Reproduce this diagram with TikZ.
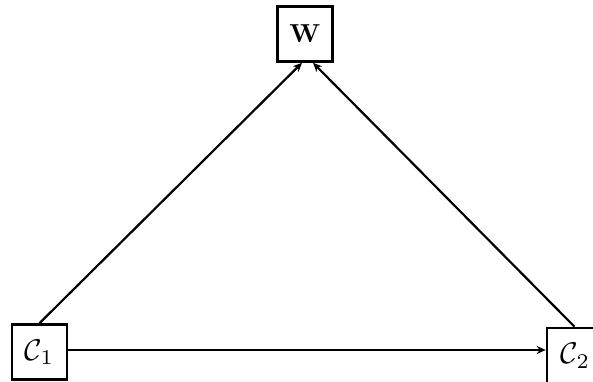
\documentclass[tikz,border=0pt]{standalone}
\usepackage{graphicx}
\usetikzlibrary{arrows.meta}
\newcommand{\wtxt}[1]{\scalebox{2.6}{#1}}
\newcommand{\ctxt}[1]{\scalebox{3.0}{#1}}
\begin{document}
\begin{tikzpicture}[x=1pt,y=-1pt,
  boxnode/.style={draw,line width=2.6pt,minimum width=55pt,minimum height=55pt,inner sep=0pt},
  conn/.style={line width=2.2pt,-{Stealth[length=9pt,width=8pt]}}]
\useasboundingbox (0,0) rectangle (593,381);
\clip (0,0) rectangle (593,381);
\node[boxnode] (W) at (305,34) {\wtxt{$\mathbf{W}$}};
\node[boxnode] (C1) at (39.5,352) {\ctxt{$\mathcal{C}_1$}};
\node[boxnode] (C2) at (574.5,355.5) {\hspace*{2pt}\ctxt{$\mathcal{C}_2$}};
\draw[conn] (C1.north) -- ([xshift=-3pt]W.south);
\draw[conn] (C2.north) -- ([xshift=8pt]W.south);
\draw[conn] ([yshift=2pt]C1.east) -- ([yshift=2pt]C1.east -| C2.west);
\end{tikzpicture}
\end{document}
